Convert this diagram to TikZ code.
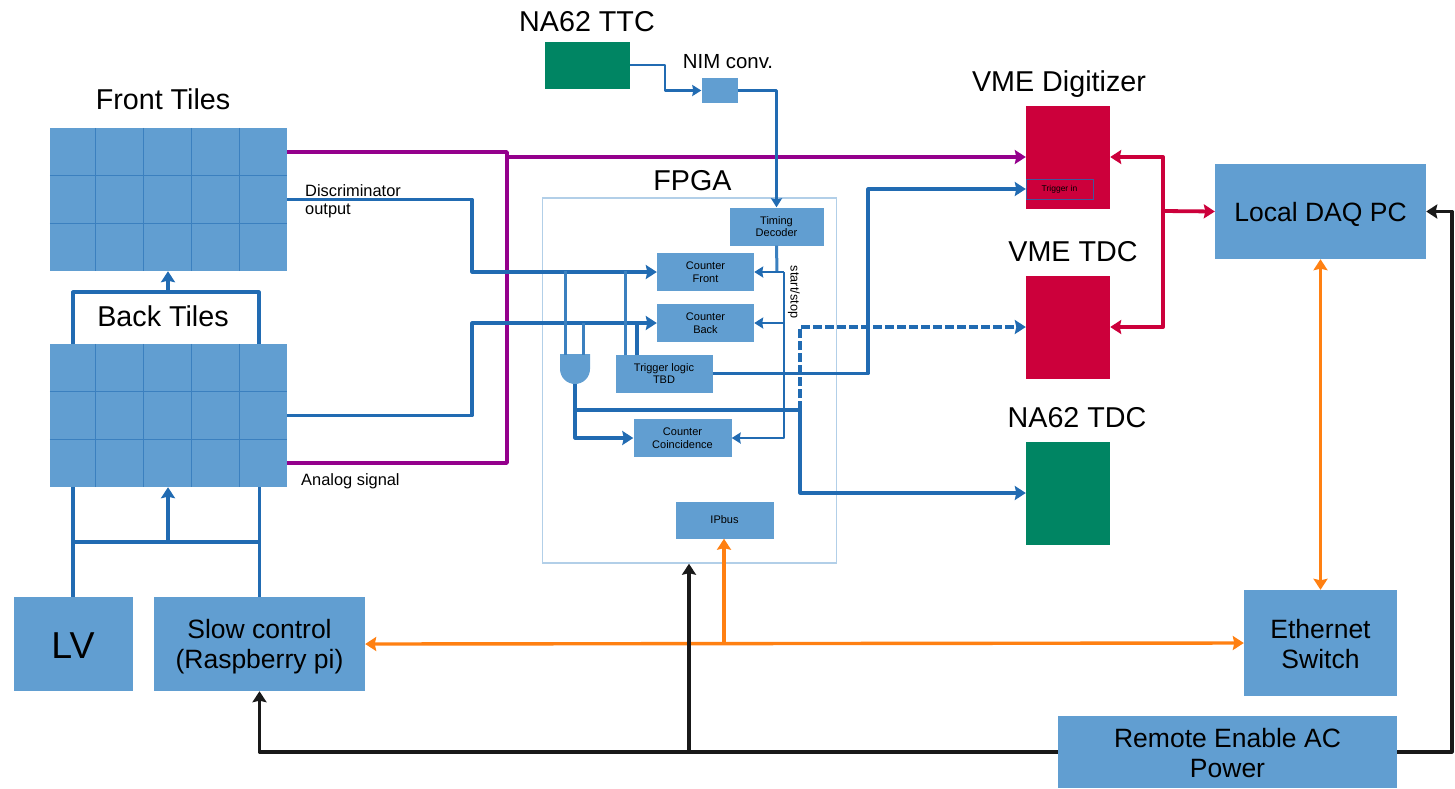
\documentclass[tikz,border=0pt]{standalone}
\usepackage{fontspec}
\setmainfont{Liberation Sans}
\usetikzlibrary{arrows.meta,calc,positioning}
\definecolor{tileblue}{rgb}{0.38,0.62,0.82}
\definecolor{wireblue}{rgb}{0.13,0.42,0.70}
\definecolor{vmered}{rgb}{0.80,0.00,0.23}
\definecolor{tdcgreen}{rgb}{0.00,0.52,0.39}
\definecolor{sigpurple}{rgb}{0.58,0.00,0.55}
\definecolor{ethorange}{rgb}{1.00,0.50,0.07}
\definecolor{fpgaline}{rgb}{0.70,0.81,0.91}
\tikzset{
  bloque/.style={
    fill=tileblue,
    align=center,
    inner sep=0pt,
    font=\fontsize{26.5}{30}\selectfont
  },
  mini/.style={
    fill=tileblue,
    align=center,
    inner sep=0pt,
    font=\fontsize{11}{12.5}\selectfont
  },
  tiles/.style={
    fill=tileblue,
    minimum width=237pt,
    minimum height=143pt,
    inner sep=0pt
  },
  crate/.style={
    minimum width=84pt,
    inner sep=0pt
  },
  titulo/.style={
    inner sep=0pt,
    font=\fontsize{28.7}{32}\selectfont
  },
  nota/.style={
    inner sep=0pt,
    align=left,
    font=\fontsize{16.4}{18}\selectfont
  },
  wire/.style={
    -{Stealth[length=11pt,width=14pt,inset=1.5pt]},
    line width=3.2pt,
    wireblue,
    line join=round
  },
  thinwire/.style={
    -{Stealth[length=9pt,width=11pt,inset=1pt]},
    line width=2.4pt,
    wireblue,
    line join=round
  },
  plain/.style={
    line width=3.2pt,
    wireblue,
    line join=round
  },
  thinplain/.style={
    line width=3pt,
    wireblue!60!tileblue,
    line join=round
  },
  purplewire/.style={
    line width=3.6pt,
    sigpurple,
    line join=round
  },
  redwire/.style={
    line width=3.8pt,
    vmered,
    line join=round
  },
  orangewire/.style={
    line width=3.4pt,
    ethorange,
    line join=round
  },
  blackwire/.style={
    line width=3.2pt,
    black!90,
    line join=round
  },
  tip/.style={
    -{Stealth[length=11pt,width=14pt,inset=1.5pt]}
  },
  tips/.style={
    {Stealth[length=11pt,width=14pt,inset=1.5pt]}-{Stealth[length=11pt,width=14pt,inset=1.5pt]}
  }
}
\begin{document}
\begin{tikzpicture}[x=1pt,y=-1pt]
\useasboundingbox (0,0) rectangle (1455,788);
% tiles
\node[tiles] (front) at (168.5,199.5) {};
\node[tiles] (back) at (168.5,415.5) {};
\foreach \tile in {front,back}{
  \foreach \col in {1,2,3,4}
    \draw[wireblue!60!tileblue,line width=1pt] ($(\tile.north west)+(\col*48-2,0)$) -- ($(\tile.south west)+(\col*48-2,0)$);
  \foreach \row in {1,2}
    \draw[wireblue!60!tileblue,line width=1pt] ($(\tile.north west)+(0,\row*48)$) -- ($(\tile.north east)+(0,\row*48)$);
}
\node[titulo] (fronttitle) at (163,99) {Front Tiles};
\node[titulo] (backtitle) at (163,316) {Back Tiles};
\node[nota,anchor=west] (disc) at (305,201) {Discriminator\\output};
\node[nota,anchor=west] (analog) at (301,481) {Analog signal};
% fpga
\node[draw=fpgaline,line width=1.4pt,minimum width=294pt,minimum height=365pt,inner sep=0pt] (fpga) at (689.5,380.5) {};
\node[titulo] (fpgatitle) at (692.5,181) {FPGA};
\node[mini,minimum width=94pt,minimum height=38pt] (timing) at (776.5,226.5) {Timing\\Decoder};
\node[mini,minimum width=97pt,minimum height=38pt] (cfront) at (705.5,272) {Counter\\Front};
\node[mini,minimum width=97pt,minimum height=38pt] (cback) at (705.5,323) {Counter\\Back};
\node[mini,minimum width=97pt,minimum height=38pt] (trigger) at (664,373.5) {Trigger logic\\TBD};
\node[mini,minimum width=98pt,minimum height=38pt] (ccoin) at (682.5,438) {Counter\\Coincidence};
\node[mini,minimum width=98pt,minimum height=37pt] (ipbus) at (724.5,520) {IPbus};
\node[nota,rotate=-90,font=\fontsize{12.7}{14}\selectfont] (startstop) at (794,292) {start/stop};
\fill[tileblue] (560,354) -- (590,354) -- (590,369) arc[start angle=0,end angle=180,radius=15] -- cycle;
\coordinate (andout) at (575,384);
% ttc
\node[titulo] (ttctitle) at (587,22) {NA62 TTC};
\node[fill=tdcgreen,minimum width=85pt,minimum height=47pt,inner sep=0pt] (ttc) at (587.5,65) {};
\node[fill=tileblue,minimum width=36pt,minimum height=25pt,inner sep=0pt] (nim) at (719.5,90.5) {};
\node[nota,font=\fontsize{20.4}{24}\selectfont] (nimtitle) at (728,62) {NIM conv.};
% vme
\node[titulo] (digititle) at (1059,84) {VME Digitizer};
\node[crate,fill=vmered,minimum height=103pt] (digi) at (1068,157) {};
\node[draw=wireblue!80!vmered,line width=1pt,minimum width=67pt,minimum height=20pt,inner sep=0pt,font=\fontsize{8.5}{10}\selectfont] (trigin) at (1059.5,189) {Trigger in};
\node[titulo] (tdctitle) at (1073,252) {VME TDC};
\node[crate,fill=vmered,minimum height=103pt] (vtdc) at (1068,327) {};
\node[titulo] (natitle) at (1077,418) {NA62 TDC};
\node[crate,fill=tdcgreen,minimum height=103pt] (natdc) at (1068,493) {};
% pc
\node[bloque,minimum width=211pt,minimum height=95pt] (daq) at (1320.5,211.5) {\rule{0pt}{25pt}Local DAQ PC};
\node[bloque,minimum width=153pt,minimum height=106pt] (switch) at (1320.5,643) {\rule{0pt}{21pt}Ethernet\\Switch};
\node[bloque,minimum width=339pt,minimum height=72pt] (remote) at (1227.5,752) {\rule{0pt}{21pt}Remote Enable AC\\Power};
\node[bloque,font=\fontsize{37.5}{42}\selectfont,minimum width=119pt,minimum height=94pt] (lv) at (73,644) {\rule{0pt}{29pt}LV};
\node[bloque,minimum width=211pt,minimum height=94pt] (slow) at (259.5,644) {\rule{0pt}{25pt}Slow control\\(Raspberry pi)};
% purple
\coordinate (pa) at (507,152);
\coordinate (pb) at (507,463);
\draw[purplewire] (front.east |- pa) -- (pa) -- (pb) -- (back.east |- pb);
\draw[purplewire,tip] (507,157) -- (digi.west |- 0,157);
% blue from tiles
\draw[wire] (front.east) -| (472,235) |- (cfront.west);
\draw[wire] (back.east) -| (472,360) |- (cback.west);
\draw[thinplain] (565,271) -- (565,355);
\draw[thinplain] (583,323) -- (583,355);
\draw[thinplain] (625,271) -- (625,355);
\draw[plain] (637,323) -- (637,355);
\draw[wire] (andout) |- (ccoin.west);
\draw[plain] (575,410) -- (800,410);
\draw[wire] (800,410) |- (natdc.west);
\draw[wire,dash pattern=on 9pt off 3pt] (800,410) |- (vtdc.west);
\draw[wire] (trigger.east) -| (868,280) |- (digi.west |- trigin);
% timing
\draw[thinwire] (ttc.east) -| (665,78) |- (nim.west);
\draw[thinwire] (nim.east) -| (timing.north);
\draw[thinplain] (timing.south) -- (777,272);
\draw[thinwire] (784,272) -- (cfront.east);
\draw[thinwire] (784,323) -- (cback.east);
\draw[thinwire] (784,272) |- (ccoin.east);
% red
\coordinate (rj) at (1163,211);
\draw[redwire,tip] (rj) |- (digi.east);
\draw[redwire,tip] (rj) |- (vtdc.east);
\draw[redwire,tip] (rj) -- (daq.west);
% power
\draw[plain] (lv.north -| 73,0) -- (back.south -| 73,0);
\draw[plain] (slow.north) -- (back.south -| slow.north);
\draw[plain] (73,542) -- (259,542);
\draw[wire] (168,542) -- (back.south -| 168,0);
\draw[plain] (back.north -| 73,0) |- (259,292) -- (back.north -| 259,0);
\draw[wire] (168,292) -- (front.south -| 168,0);
% orange
\draw[orangewire,tips] (slow.east) -- (switch.west);
\draw[orangewire,tips] (daq.south) -- (switch.north);
\draw[orangewire,tip] (724,644) -- (ipbus.south -| 724,0);
% black
\draw[blackwire,tip] (remote.west) -| (slow.south);
\draw[blackwire,tip] (689,752) -- (fpga.south -| 689,0);
\draw[blackwire,tip] (remote.east) -| (1452,400) |- (daq.east);
\end{tikzpicture}
\end{document}
